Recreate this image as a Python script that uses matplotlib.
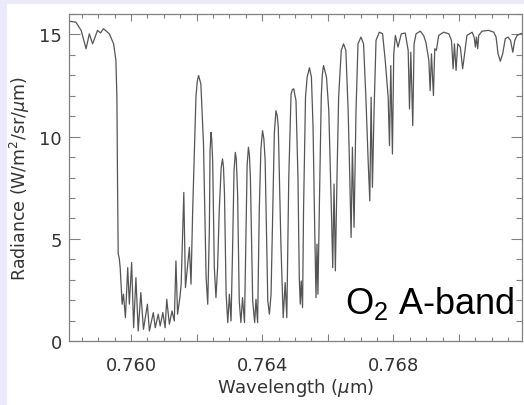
import matplotlib
matplotlib.use('Agg')
import matplotlib.pyplot as plt
from matplotlib.patches import Rectangle
from matplotlib.ticker import MultipleLocator, FuncFormatter

# spectrum (wavelength in um, radiance in W/m2/sr/um)
wavelength = [
    0.75810, 0.75832, 0.75848, 0.75863, 0.75873, 0.75883, 0.75898, 0.75907, 0.75916, 0.75934,
    0.75947, 0.75954, 0.75957, 0.75959, 0.75961, 0.75964, 0.75967, 0.75973, 0.75977, 0.75983,
    0.75990, 0.75995, 0.76002, 0.76008, 0.76015, 0.76022, 0.76030, 0.76038, 0.76050, 0.76056,
    0.76068, 0.76074, 0.76083, 0.76089, 0.76097, 0.76104, 0.76109, 0.76117, 0.76125, 0.76132,
    0.76137, 0.76142, 0.76149, 0.76153, 0.76161, 0.76166, 0.76178, 0.76183, 0.76188, 0.76198,
    0.76202, 0.76206, 0.76213, 0.76221, 0.76229, 0.76234, 0.76239, 0.76241, 0.76244, 0.76246,
    0.76249, 0.76254, 0.76259, 0.76264, 0.76269, 0.76275, 0.76279, 0.76282, 0.76285, 0.76290,
    0.76295, 0.76300, 0.76305, 0.76310, 0.76314, 0.76318, 0.76321, 0.76325, 0.76330, 0.76335,
    0.76340, 0.76346, 0.76351, 0.76354, 0.76358, 0.76361, 0.76364, 0.76371, 0.76377, 0.76381,
    0.76386, 0.76391, 0.76396, 0.76401, 0.76405, 0.76409, 0.76417, 0.76422, 0.76427, 0.76432,
    0.76437, 0.76442, 0.76446, 0.76449, 0.76457, 0.76464, 0.76470, 0.76475, 0.76481, 0.76488,
    0.76492, 0.76496,
    0.76503, 0.76509, 0.76513, 0.76516, 0.76519, 0.76523, 0.76526, 0.76532, 0.76537, 0.76544,
    0.76550, 0.76555, 0.76560, 0.76564, 0.76567, 0.76570, 0.76574, 0.76580, 0.76583, 0.76587,
    0.76596, 0.76603, 0.76611, 0.76615, 0.76619, 0.76623, 0.76628, 0.76633, 0.76641, 0.76648,
    0.76655, 0.76662, 0.76667, 0.76671, 0.76675, 0.76680, 0.76686, 0.76692, 0.76701, 0.76709,
    0.76716, 0.76723, 0.76728, 0.76732, 0.76736, 0.76741, 0.76747, 0.76757, 0.76767, 0.76775,
    0.76784, 0.76788, 0.76792, 0.76797, 0.76801, 0.76806, 0.76814, 0.76824, 0.76836, 0.76845,
    0.76849, 0.76853, 0.76859, 0.76863, 0.76869, 0.76882, 0.76892, 0.76899, 0.76908, 0.76912,
    0.76916, 0.76922, 0.76926, 0.76931, 0.76938, 0.76953, 0.76969, 0.76977, 0.76982, 0.76986,
    0.76991, 0.76996, 0.77004, 0.77011, 0.77017, 0.77024, 0.77040, 0.77046, 0.77050, 0.77053,
    0.77057, 0.77060, 0.77070, 0.77090, 0.77106, 0.77113, 0.77119, 0.77126, 0.77133, 0.77141,
    0.77149, 0.77157, 0.77164, 0.77170, 0.77177, 0.77187, 0.77195,
]
radiance = [
    15.65, 15.60, 15.20, 14.30, 15.03, 14.54, 15.20, 15.07, 15.28, 15.03,
    14.54, 13.73, 11.93, 7.68, 4.25, 4.08, 3.59, 1.80, 2.29, 1.14,
    3.59, 1.80, 3.84, 0.65, 3.10, 0.49, 2.37, 0.57, 1.80, 0.49,
    1.39, 0.65, 1.31, 0.74, 1.39, 0.65, 2.04, 0.82, 1.47, 0.98,
    3.92, 1.31, 2.12, 2.78, 7.27, 2.61, 4.58, 2.78, 6.37, 11.93,
    12.70, 12.99, 12.58, 9.64, 3.10, 1.80, 5.56, 9.30, 10.21, 9.90,
    8.82, 3.59, 2.12, 3.59, 6.37, 8.50, 8.91, 8.50, 7.19, 2.29,
    0.90, 2.29, 0.98, 4.74, 8.30, 9.23, 8.90, 7.19, 1.96, 0.90,
    2.12, 0.90, 5.56, 8.60, 9.48, 9.10, 8.01, 1.96, 0.90, 2.04,
    0.90, 6.37, 9.40, 10.29, 9.90, 8.82, 1.96, 1.31, 2.29, 6.37,
    10.20, 11.27, 11.00, 10.46, 4.74, 1.14, 2.86, 1.14, 8.01, 12.09,
    12.30, 12.34,
    11.76, 8.01, 3.10, 1.80, 2.94, 1.63, 6.37, 11.93, 12.91, 13.37,
    12.91, 10.46, 5.56, 2.12, 4.74, 2.29, 6.37, 11.93, 13.00, 13.48,
    12.91, 11.27, 6.37, 3.59, 7.68, 3.43, 8.01, 11.93, 14.22, 14.54,
    14.22, 11.27, 8.01, 5.07, 9.48, 5.56, 11.27, 14.54, 14.87, 14.54,
    11.93, 8.82, 6.86, 11.93, 7.52, 11.27, 14.71, 15.11, 15.03, 13.73,
    11.93, 9.56, 13.48, 9.15, 14.05, 14.95, 14.38, 15.03, 15.07, 14.22,
    11.36, 14.13, 10.54, 14.54, 15.03, 15.16, 14.95, 14.62, 13.73, 12.25,
    14.05, 12.01, 14.30, 14.22, 14.95, 15.11, 15.03, 14.71, 13.32, 14.54,
    13.24, 14.54, 14.38, 13.32, 14.05, 14.95, 15.11, 14.87, 14.38, 14.87,
    14.30, 14.95, 15.16, 15.20, 15.11, 14.87, 14.05, 13.69, 14.05, 14.79,
    14.87, 14.71, 14.13, 14.71, 14.95, 15.03, 15.07,
]
labelled_ticks = [0.760, 0.764, 0.768]

fig = plt.figure(figsize=(5.24, 4.06), dpi=100, facecolor='white')

# light lavender strips at the top and left edge of the slide
lav = '#EAEAFA'
fig.patches.append(Rectangle((0, 1 - 5 / 406), 1, 5 / 406, transform=fig.transFigure,
                             facecolor=lav, edgecolor='none', zorder=0))
fig.patches.append(Rectangle((0, 0), 7 / 524, 1, transform=fig.transFigure,
                             facecolor=lav, edgecolor='none', zorder=0))

ax = fig.add_axes([69 / 524, 64 / 406, 453 / 524, 327 / 406])
ax.plot(wavelength, radiance, color='#555555', lw=0.9)

ax.set_xlim(0.75811, 0.77192)
ax.set_ylim(0, 16)

ax.xaxis.set_major_locator(MultipleLocator(0.002))
ax.xaxis.set_minor_locator(MultipleLocator(0.0005))
ax.xaxis.set_major_formatter(FuncFormatter(
    lambda v, p: f'{v:.3f}' if any(abs(v - t) < 1e-6 for t in labelled_ticks) else ''))
ax.yaxis.set_major_locator(MultipleLocator(5))
ax.yaxis.set_minor_locator(MultipleLocator(1))

for s in ax.spines.values():
    s.set_color('#808080')
    s.set_linewidth(0.9)

ax.tick_params(which='both', direction='in', top=True, right=True,
               color='#808080', labelcolor='#333333', labelsize=13, width=0.8)
ax.tick_params(axis='x', which='major', length=5, pad=11)
ax.tick_params(axis='x', which='minor', length=3)
ax.tick_params(axis='y', which='major', length=8, pad=5)
ax.tick_params(axis='y', which='minor', length=4)

ax.set_xlabel('Wavelength ($\\mu$m)', fontsize=13, color='#333333', labelpad=1)
ax.set_ylabel('Radiance (W/m$^2$/sr/$\\mu$m)', fontsize=12.5, color='#333333', labelpad=5)

fig.text(515 / 524, 92 / 406, '$\\mathregular{O_2}$ A-band', fontfamily='Liberation Sans',
         fontsize=26, color='black', ha='right', va='baseline')

fig.savefig('out.png', dpi=100)
